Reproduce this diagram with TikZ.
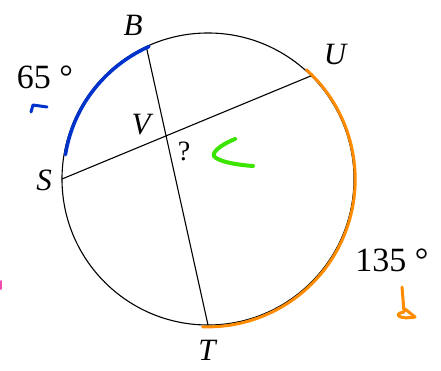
\documentclass[tikz,border=0pt]{standalone}
\usepackage{fontspec}
\setmainfont{Liberation Serif}
\usetikzlibrary{calc}

\begin{document}
\begin{tikzpicture}[x=1pt, y=1pt, line cap=round,
    pt/.style={font=\fontsize{31}{32}\selectfont\itshape, inner sep=0pt},
    deg/.style={font=\fontsize{34}{35}\selectfont, inner sep=0pt},
    ink/.style={line width=3.5pt, line cap=round, line join=round}]
  %% frame of the picture
  \useasboundingbox (0,0) rectangle (441,370);
  %% circle: centre O, radius 146
  \def\rad{146}
  \coordinate (O) at (208,191);
  \draw[line width=1.1pt] (O) circle (\rad);
  %% points on the circle
  \coordinate (B) at ($(O)+(115:\rad)$);
  \coordinate (S) at ($(O)+(180:\rad)$);
  \coordinate (U) at ($(O)+(45:\rad)$);
  \coordinate (T) at ($(O)+(270:\rad)$);
  %% chords
  \draw[line width=1.1pt] (B) -- (T);
  \draw[line width=1.1pt] (S) -- (U);
  %% letters
  \node[pt] (lB) at (133,345) {B};
  \node[pt] (lU) at (335,315) {U};
  \node[pt] (lS) at (44,190) {S};
  \node[pt] (lT) at (207,20) {T};
  \node[pt] (lV) at (141,245) {V};
  \node[deg, font=\fontsize{28}{29}\selectfont] (lQ) at (184,219) {?};
  %% arc measures
  \node[deg] (a65) at (45,293) {65 °};
  \node[deg] (a135) at (392,110) {135 °};
  %% hand marks
  \draw[ink, blue!75!cyan!80!black] ($(O)+(114:145)$) arc[start angle=114, end angle=145, radius=145]
    arc[start angle=145, end angle=171, radius=141];
  \draw[ink, line width=3pt, blue!75!cyan!80!black] (31,258) -- (33,265) -- (47,263);
  \draw[ink, line width=3pt, orange!90!yellow] ($(O)+(48:147)$) arc[start angle=48, end angle=-92, radius=147.5];
  \draw[ink, line width=3pt, orange!90!yellow] (402,83) -- (404,58) .. controls (392,56) and (400,50) .. (415,53) -- (405,61);
  \draw[ink, line width=4pt, green!65!lime!90!black] (235,231) .. controls (222,226) and (208,216) .. (216,212) .. controls (224,207) and (240,205) .. (253,204);
  \draw[ink, line width=2pt, magenta!70] (1,89) -- (1,81);
\end{tikzpicture}
\end{document}
